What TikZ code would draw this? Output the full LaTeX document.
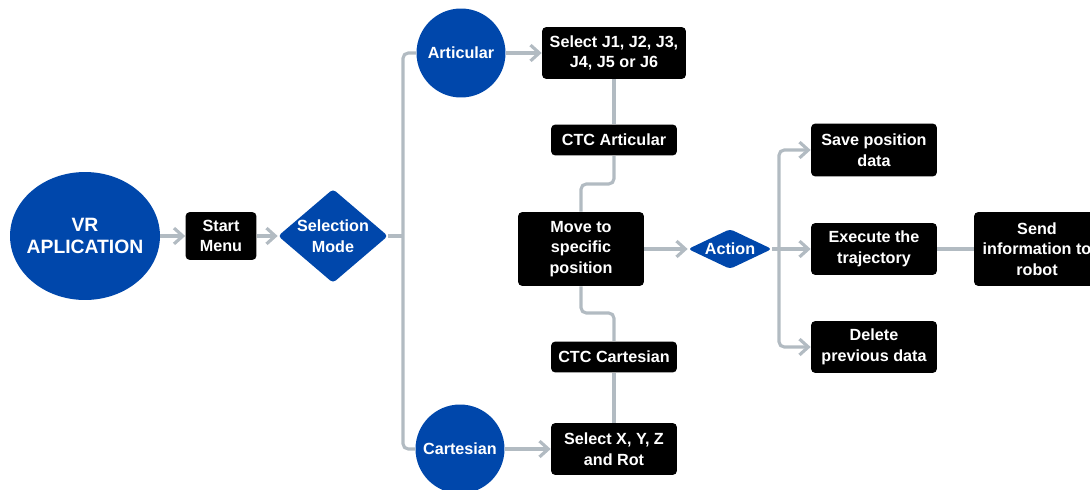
\documentclass[tikz,border=0pt]{standalone}
\usepackage{fontspec}
\setmainfont{Liberation Sans}
\usepackage{tikz}
\usetikzlibrary{shapes.geometric, arrows.meta}

\definecolor{vrblue}{RGB}{0,71,171}
\definecolor{linegray}{RGB}{178,187,194}

\begin{document}
\begin{tikzpicture}[x=0.02cm, y=-0.02cm,
		every node/.style={text=white, font=\bfseries\fontsize{9.2}{11.8}\selectfont, align=center, inner sep=0pt},
		box/.style={fill=black, rounded corners=2.5pt, minimum width=2.52cm},
		bubble/.style={circle, fill=vrblue, minimum size=1.78cm},
		choice/.style={diamond, fill=vrblue, rounded corners=2pt},
		wire/.style={draw=linegray, line width=1.8pt, rounded corners=3pt},
		go/.style={wire, -{Straight Barb[length=5pt, width=9pt]}}]
			\useasboundingbox (0,0) rectangle (1090,490);
			\clip (0,0) rectangle (1090,490);
			
			% left part
			\node[ellipse, fill=vrblue, minimum width=3cm, minimum height=2.56cm] (app) at (85,236) {};
			\node[font=\bfseries\fontsize{11}{12.7}\selectfont] (appT) at (app) {VR\\APLICATION};
			\node[box, minimum width=1.42cm, minimum height=0.96cm] (menu) at (221,236) {Start\\Menu};
			\node[choice, minimum width=2.2cm, minimum height=1.88cm] (sel) at (333,236) {};
			\node (selT) at (sel) {Selection\\Mode};
			\coordinate (hub) at (403,236);
			
			% two modes
			\node[bubble] (art) at (461,53) {Articular};
			\node[box, minimum width=2.88cm, minimum height=1.04cm] (selJ) at (614,53) {Select J1, J2, J3,\\J4, J5 or J6};
			\node[box, minimum height=0.62cm] (ctcA) at (614,140) {CTC Articular};
			\node[bubble] (cart) at (460,449) {Cartesian};
			\node[box, minimum height=1.04cm] (selX) at (614,449) {Select X, Y, Z\\and Rot};
			\node[box, minimum height=0.62cm] (ctcC) at (614,357) {CTC Cartesian};
			\coordinate (jogA) at (581,184);
			\coordinate (jogC) at (581,313);
			
			% actions
			\node[box, minimum height=1.48cm] (move) at (581,249) {Move to\\specific\\position};
			\node[choice, minimum width=1.68cm, minimum height=0.8cm] (act) at (730,249) {};
			\node (actT) at (act) {Action};
			\coordinate (fork) at (779,249);
			\node[box, minimum height=1.06cm] (save) at (874,150) {Save position\\data};
			\node[box, minimum height=1.04cm] (exec) at (874,249) {Execute the\\trajectory};
			\node[box, minimum height=1.04cm] (del) at (874,347) {Delete\\previous data};
			\node[box, minimum height=1.48cm] (send) at (1037,249) {Send\\information to\\robot};
			
			\draw[go] (app) -- (menu);
			\draw[go] (menu) -- (sel);
			\draw[wire] (sel.east) -- (hub);
			\draw[wire] (art.west) -| (hub) |- (cart.west);
			\draw[go] (art) -- (selJ);
			\draw[wire] (selJ) -- (ctcA);
			\draw[wire] (ctcA) |- (jogA) -- (move);
			\draw[go] (cart) -- (selX);
			\draw[wire] (selX) -- (ctcC);
			\draw[wire] (ctcC) |- (jogC) -- (move);
			\draw[go] (move) -- (act);
			\draw[wire] (act) -- (fork);
			\draw[go] (fork) |- (save);
			\draw[go] (fork) -- (exec);
			\draw[go] (fork) |- (del);
			\draw[wire] (exec) -- (send);
		\end{tikzpicture}
\end{document}
